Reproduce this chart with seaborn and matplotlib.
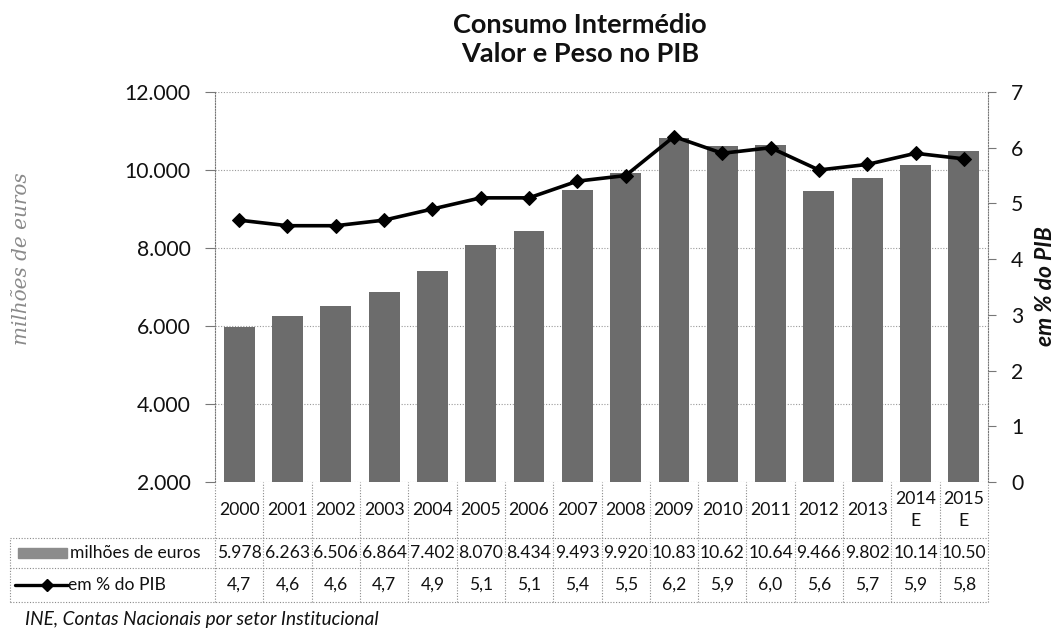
import matplotlib
matplotlib.use("Agg")
import matplotlib.pyplot as plt
import seaborn as sns
import pandas as pd
import numpy as np

years = ["2000", "2001", "2002", "2003", "2004", "2005", "2006", "2007",
         "2008", "2009", "2010", "2011", "2012", "2013", "2014\nE", "2015\nE"]
valores = [5978, 6263, 6506, 6864, 7402, 8070, 8434, 9493,
           9920, 10830, 10620, 10640, 9466, 9802, 10140, 10500]
valores_txt = ["5.978", "6.263", "6.506", "6.864", "7.402", "8.070", "8.434", "9.493",
               "9.920", "10.83", "10.62", "10.64", "9.466", "9.802", "10.14", "10.50"]
pct = [4.7, 4.6, 4.6, 4.7, 4.9, 5.1, 5.1, 5.4, 5.5, 6.2, 5.9, 6.0, 5.6, 5.7, 5.9, 5.8]
pct_txt = ["4,7", "4,6", "4,6", "4,7", "4,9", "5,1", "5,1", "5,4",
           "5,5", "6,2", "5,9", "6,0", "5,6", "5,7", "5,9", "5,8"]
left_ticks = [2000, 4000, 6000, 8000, 10000, 12000]
left_ticklabels = ["2.000", "4.000", "6.000", "8.000", "10.000", "12.000"]
right_ticks = [0, 1, 2, 3, 4, 5, 6, 7]

sns.set_style("white")
plt.rcParams["font.family"] = ["Lato", "DejaVu Sans"]

W, H = 1059, 631
fig = plt.figure(figsize=(W / 100, H / 100), dpi=100)

def fx(px):
    return px / W

def fy(py):
    return 1 - py / H

L, R, T, B = 215, 988, 92, 482
ax = fig.add_axes([fx(L), fy(B), fx(R - L), (B - T) / H])

df = pd.DataFrame({"ano": years, "valor": valores, "pct": pct, "pos": np.arange(len(years))})
bar_color = "#6c6c6c"
sns.barplot(data=df, x="ano", y="valor", color=bar_color, width=0.64, ax=ax,
            saturation=1, edgecolor="none")
ax.set_ylim(2000, 12000)
ax.set_xlim(-0.5, len(years) - 0.5)
ax.set_yticks(left_ticks)
ax.set_yticklabels(left_ticklabels, fontsize=15.2)
ax.set_xticks([])
ax.set_xlabel("")
ax.set_ylabel("")
ax.yaxis.grid(True, linestyle=(0, (1, 1.5)), color="#9a9a9a", linewidth=0.8)
ax.set_axisbelow(True)
for s in ["top", "bottom", "right"]:
    ax.spines[s].set_visible(False)
ax.spines["left"].set_linestyle((0, (1, 1.5)))
ax.spines["left"].set_color("#777777")
ax.spines["left"].set_linewidth(0.8)
ax.tick_params(axis="y", which="both", left=True, length=7, width=0.8, color="#777777",
               pad=10.5, labelcolor="#111111")

ax2 = ax.twinx()
sns.lineplot(data=df, x="pos", y="pct", ax=ax2, color="black", linewidth=2.6,
             marker="D", markersize=7, markeredgecolor="black", legend=False)
ax2.set_ylim(0, 7)
ax2.set_yticks(right_ticks)
ax2.set_yticklabels([str(t) for t in right_ticks], fontsize=15.2)
ax2.set_xlim(-0.5, len(years) - 0.5)
ax2.set_xlabel("")
ax2.set_ylabel("")
for s in ["top", "bottom", "left"]:
    ax2.spines[s].set_visible(False)
ax2.spines["right"].set_linestyle((0, (1, 1.5)))
ax2.spines["right"].set_color("#777777")
ax2.spines["right"].set_linewidth(0.8)
ax2.tick_params(axis="y", right=True, length=6, width=0.8, color="#777777", pad=10.5,
                labelcolor="#111111")

# Axis titles
fig.text(fx(22), fy(259), "milhões de euros", rotation=90, ha="center", va="center",
         fontsize=14.4, style="italic", color="#8a8a8a", family=["DejaVu Serif"])
fig.text(fx(1045), fy(286), "em % do PIB", rotation=90, ha="center", va="center",
         fontsize=16.5, style="italic", weight="bold", color="#111111")

# Title
fig.text(fx(580), fy(25), "Consumo Intermédio", ha="center", va="center",
         fontsize=19.5, weight="bold", color="#111111")
fig.text(fx(580), fy(54), "Valor e Peso no PIB", ha="center", va="center",
         fontsize=19.5, weight="bold", color="#111111")

# Data table
TL, TB = 10, 602
tax = fig.add_axes([fx(TL), fy(TB), fx(R - TL), (TB - B) / H])
colw = (R - L) / len(years)
x_left = -0.5 - (L - TL) / colw
x_right = len(years) - 0.5
tax.set_xlim(x_left, x_right)
tax.set_ylim(0, TB - B)
tax.axis("off")
dot = dict(color="#8a8a8a", linewidth=0.8, linestyle=(0, (1, 1.5)), clip_on=False)
y_r1, y_r2, y_top = TB - 568, TB - 538, TB - B
for yy in [0, y_r1, y_r2]:
    tax.plot([x_left, x_right], [yy, yy], **dot)
tax.plot([x_left, x_left], [0, y_r2], **dot)
for i in range(len(years) + 1):
    xx = i - 0.5
    tax.plot([xx, xx], [0, y_top], **dot)

for i, (yr, vt, pt) in enumerate(zip(years, valores_txt, pct_txt)):
    tax.text(i, (y_r2 + y_top) / 2, yr, ha="center", va="center", fontsize=12.7,
             linespacing=1.4, color="#111111")
    tax.text(i, (y_r1 + y_r2) / 2, vt, ha="center", va="center", fontsize=12.6,
             color="#111111")
    tax.text(i, y_r1 / 2, pt, ha="center", va="center", fontsize=12.6, color="#111111")

# legend keys in table
px_to_x = lambda p: x_left + (p - TL) / colw
ymid_v = (y_r1 + y_r2) / 2
tax.add_patch(plt.Rectangle((px_to_x(18), ymid_v - 5), (67 - 18) / colw, 10,
                            color="#8c8c8c", clip_on=False))
tax.text(px_to_x(70), ymid_v, "milhões de euros", ha="left", va="center",
         fontsize=12.6, color="#111111")
tax.plot([px_to_x(15), px_to_x(68)], [y_r1 / 2, y_r1 / 2], color="black", linewidth=2.4,
         clip_on=False)
tax.plot([px_to_x(47)], [y_r1 / 2], marker="D", color="black", markersize=6, clip_on=False)
tax.text(px_to_x(68), y_r1 / 2, "em % do PIB", ha="left", va="center", fontsize=12.6,
         color="#111111")

# Source
fig.text(fx(25), fy(619), "INE, Contas Nacionais por setor Institucional", ha="left",
         va="center", fontsize=13.7, style="italic", color="#111111")

fig.savefig("out.png", dpi=100)
